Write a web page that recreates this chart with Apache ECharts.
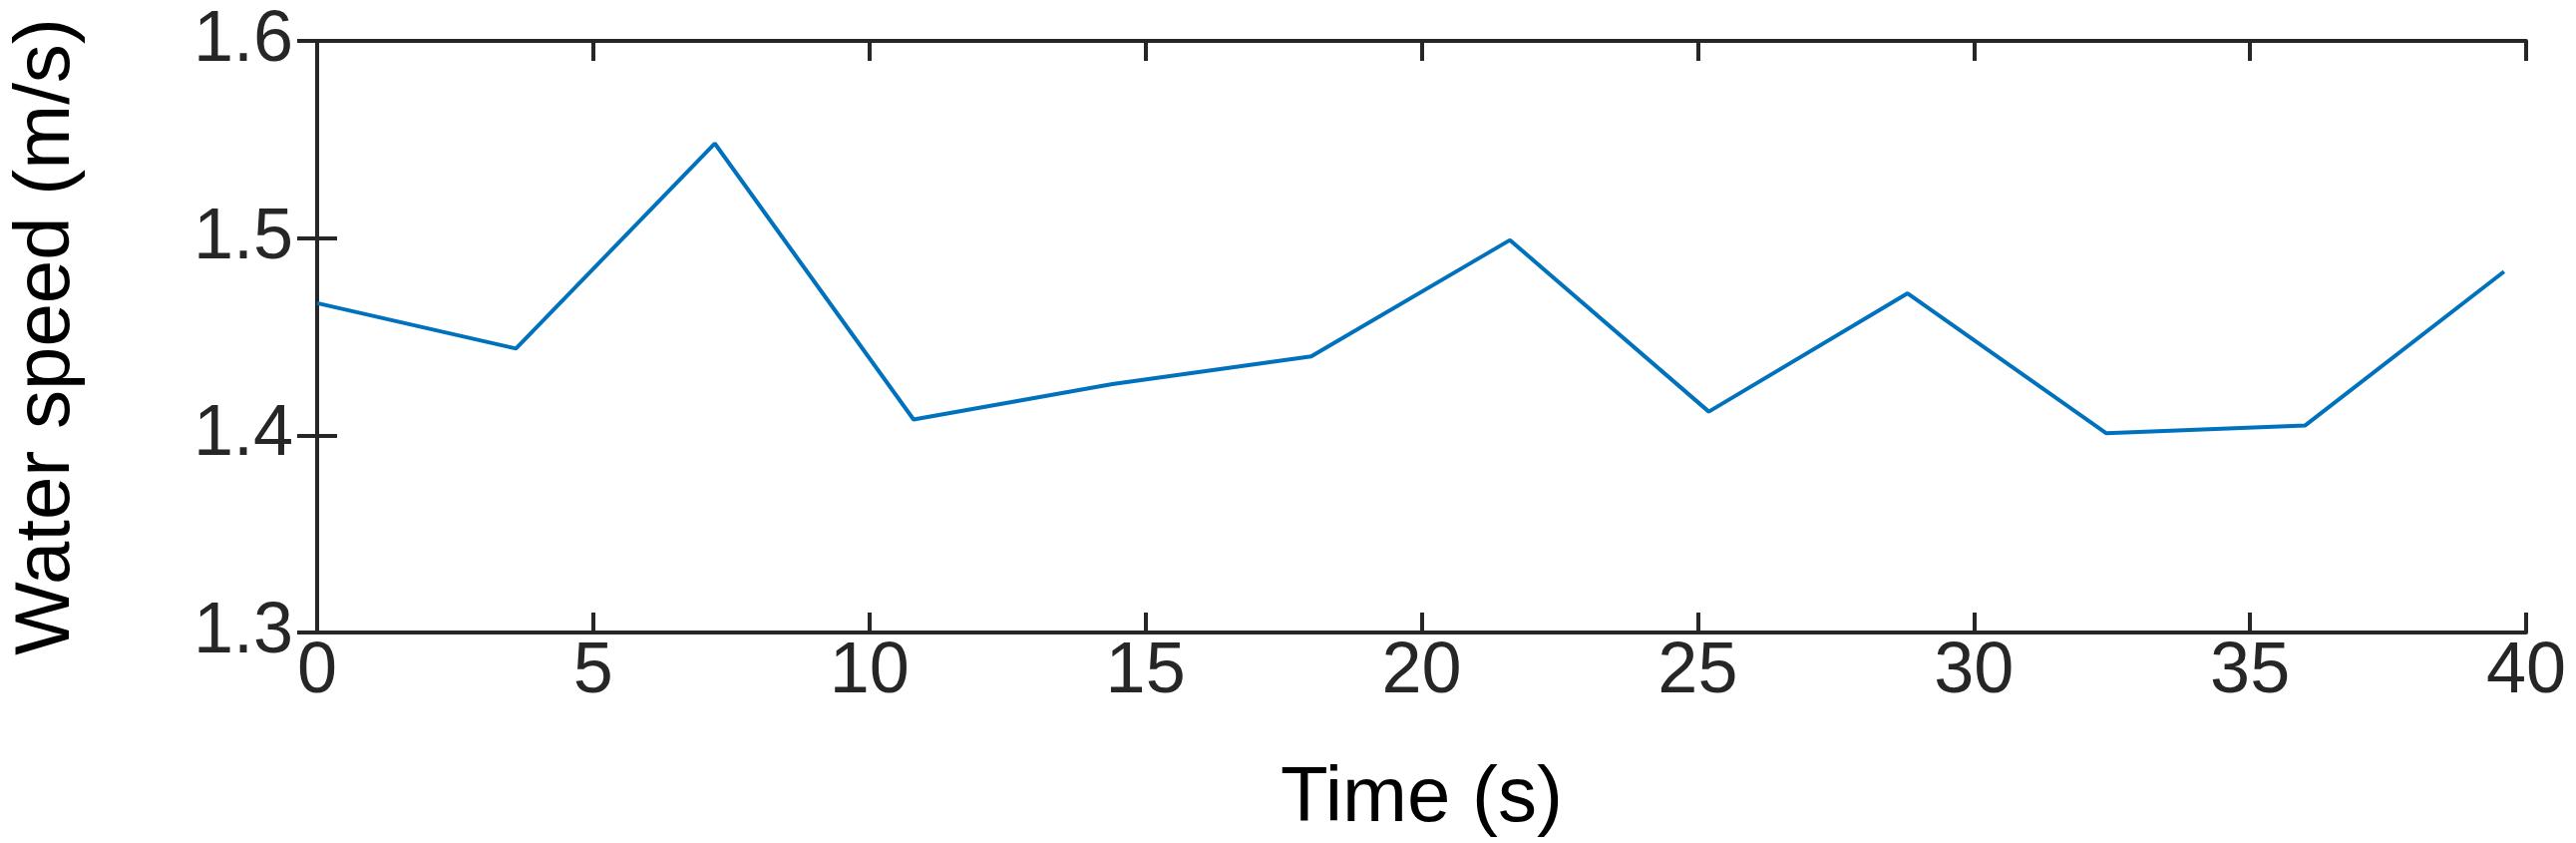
<!DOCTYPE html>
<html>
<head>
<meta charset="utf-8">
<script src="https://cdn.jsdelivr.net/npm/echarts@6/dist/echarts.min.js"></script>
<style>html,body{margin:0;background:#fff}#chart{width:2583px;height:845px}</style>
</head>
<body>
<div id="chart"></div>
<script>
var times = [0, 3.6, 7.2, 10.8, 14.4, 18, 21.6, 25.2, 28.8, 32.4, 36, 39.6];
var speeds = [1.467, 1.444, 1.548, 1.408, 1.426, 1.440, 1.499, 1.412, 1.472, 1.401, 1.405, 1.483];

var chart = echarts.init(document.getElementById('chart'));
var axisLine = { show: true, lineStyle: { color: '#262626', width: 4 } };
var tick = { inside: true, length: 20, lineStyle: { color: '#262626', width: 4 } };
var font = 'Liberation Sans, Arial, sans-serif';
chart.setOption({
    animation: false,
    grid: { left: 290, right: 50, top: 41, bottom: 178 },
    xAxis: [{
        type: 'value', min: 0, max: 40, interval: 5,
        name: 'Time (s)', nameLocation: 'middle', nameGap: 128,
        nameTextStyle: { fontSize: 78, color: '#000', fontFamily: font },
        axisLine: axisLine, axisTick: tick,
        axisLabel: { fontSize: 72, color: '#262626', fontFamily: font, margin: 4 },
        splitLine: { show: false }
    }, {
        type: 'value', min: 0, max: 40, interval: 5, position: 'top',
        axisLine: axisLine, axisTick: tick,
        axisLabel: { show: false }, splitLine: { show: false }
    }],
    yAxis: [{
        type: 'value', min: 1.3, max: 1.6, interval: 0.1,
        name: 'Water speed (m/s)', nameLocation: 'middle', nameGap: 232,
        nameTextStyle: { fontSize: 78, color: '#000', fontFamily: font },
        axisLine: axisLine, axisTick: tick,
        axisLabel: { fontSize: 72, color: '#262626', fontFamily: font, margin: 24,
            formatter: function (v) { return v.toFixed(1); } },
        splitLine: { show: false }
    }, {
        type: 'value', min: 1.3, max: 1.6, interval: 0.1, position: 'right',
        axisLine: axisLine, axisTick: tick,
        axisLabel: { show: false }, splitLine: { show: false }
    }],
    series: [{
        type: 'line',
        data: times.map(function (t, i) { return [t, speeds[i]]; }),
        showSymbol: false,
        lineStyle: { color: '#0072BD', width: 4 }
    }]
});
</script>
</body>
</html>
